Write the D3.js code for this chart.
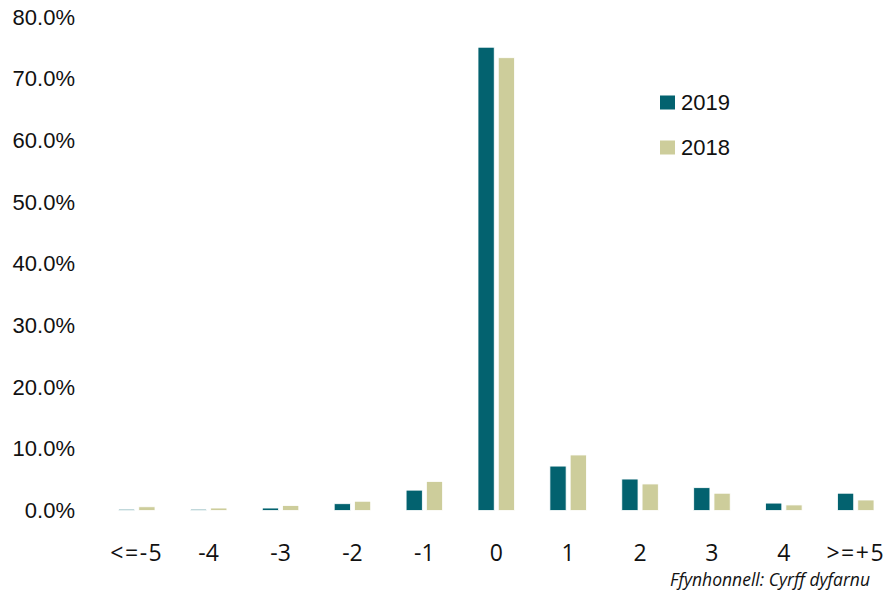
<!DOCTYPE html>
<html>
<head>
<meta charset="utf-8">
<script src="https://cdn.jsdelivr.net/npm/d3@7"></script>
<style>
  body { margin: 0; background: #fff; }
  svg { display: block; }
</style>
</head>
<body>
<svg id="chart" width="887" height="591"></svg>
<script>
// data
var categories = ["<=-5", "-4", "-3", "-2", "-1", "0", "1", "2", "3", "4", ">=+5"];
var years = ["2019", "2018"];
var values2019 = [0.2, 0.2, 0.4, 1.1, 3.3, 75.1, 7.2, 5.1, 3.7, 1.2, 2.8];
var values2018 = [0.6, 0.4, 0.8, 1.5, 4.7, 73.4, 9.0, 4.3, 2.8, 0.9, 1.7];
var yTicks = [0, 10, 20, 30, 40, 50, 60, 70, 80];
var colors = { "2019": "#03626f", "2018": "#cdcd9b" };
var sourceText = "Ffynhonnell: Cyrff dyfarnu";

var svg = d3.select("#chart");

var rows = categories.map(function (c, i) {
    return { cat: c, "2019": values2019[i], "2018": values2018[i] };
});

var x = d3.scaleBand()
    .domain(categories)
    .range([100.8, 891.7])
    .padding(0);

var x1 = d3.scaleBand()
    .domain(years)
    .range([-18.25, 18.25])
    .paddingInner(0.2);

var y = d3.scaleLinear()
    .domain([0, 80])
    .range([510.5, 17]);

// y axis labels, no line
var yAxis = d3.axisLeft(y)
    .tickValues(yTicks)
    .tickSize(0)
    .tickPadding(0)
    .tickFormat(function (d) { return d3.format(".1f")(d) + "%"; });

svg.append("g")
    .attr("transform", "translate(75,0)")
    .call(yAxis)
    .call(function (g) { g.select(".domain").remove(); })
    .selectAll("text")
    .attr("font-family", "'Liberation Sans', Arial, sans-serif")
    .attr("font-size", 22)
    .attr("fill", "#111");

// bars
var groups = svg.append("g").selectAll("g")
    .data(rows)
    .enter().append("g")
    .attr("transform", function (d) { return "translate(" + (x(d.cat) + x.bandwidth() / 2) + ",0)"; });

groups.selectAll("rect")
    .data(function (d) { return years.map(function (k) { return { key: k, value: d[k] }; }); })
    .enter().append("rect")
    .attr("x", function (d) { return x1(d.key); })
    .attr("width", x1.bandwidth())
    .attr("y", function (d) { return y(d.value); })
    .attr("height", function (d) { return y(0) - y(d.value); })
    .attr("fill", function (d) { return colors[d.key]; })
    .attr("stroke", "#fff")
    .attr("stroke-width", 0.8);

// category labels
var xAxis = d3.axisBottom(x).tickSize(0).tickPadding(0);
svg.append("g")
    .attr("transform", "translate(0,553)")
    .call(xAxis)
    .call(function (g) { g.select(".domain").remove(); })
    .selectAll("text")
    .attr("dy", "0.35em")
    .attr("font-family", "'Open Sans', 'Noto Sans', sans-serif")
    .attr("font-size", 23)
    .attr("letter-spacing", function (d) { return /[<>]/.test(d) ? 1.5 : 0; })
    .attr("fill", "#111");

// legend
var legend = svg.append("g").selectAll("g")
    .data(years)
    .enter().append("g")
    .attr("transform", function (d, i) { return "translate(660," + (95.5 + i * 45) + ")"; });

legend.append("rect")
    .attr("width", 15)
    .attr("height", 14)
    .attr("fill", function (d) { return colors[d]; });

legend.append("text")
    .attr("x", 21)
    .attr("y", 7)
    .attr("dy", "0.35em")
    .attr("font-family", "'Liberation Sans', Arial, sans-serif")
    .attr("font-size", 22)
    .attr("fill", "#111")
    .text(function (d) { return d; });

// source note
svg.append("text")
    .attr("x", 870)
    .attr("y", 580)
    .attr("dy", "0.35em")
    .attr("text-anchor", "end")
    .attr("font-family", "'Open Sans', 'Noto Sans', sans-serif")
    .attr("font-style", "italic")
    .attr("font-size", 17.5)
    .attr("fill", "#111")
    .text(sourceText);
</script>
</body>
</html>
